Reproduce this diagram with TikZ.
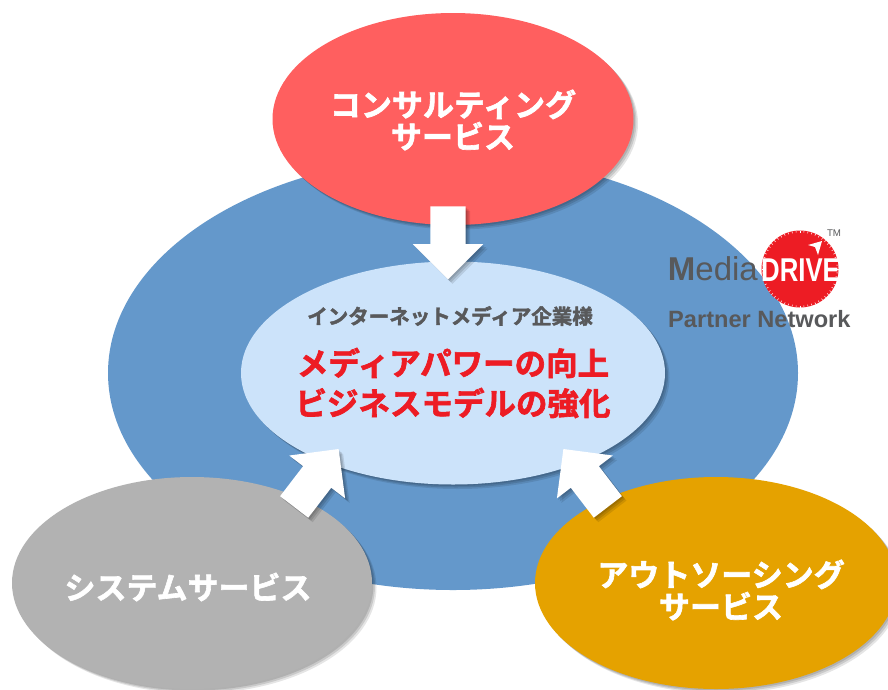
\documentclass[tikz,border=0pt]{standalone}
\usepackage{fontspec}
\setmainfont{Noto Sans CJK JP}[BoldFont={Noto Sans CJK JP Bold},BoldFeatures={FakeBold=2}]
\newfontfamily\logofont{Liberation Sans}
\newfontfamily\logonarrow{Liberation Sans Bold}[FakeStretch=.78]
\usetikzlibrary{calc,shapes.geometric,shapes.arrows,shadows}

\definecolor{ringcolor}{HTML}{6498CB}
\definecolor{consultcolor}{HTML}{FF5F5F}
\definecolor{clientcolor}{HTML}{CCE3FA}
\definecolor{systemcolor}{HTML}{B2B2B2}
\definecolor{outsourcecolor}{HTML}{E5A200}
\definecolor{mainred}{HTML}{ED1C24}
\definecolor{textgray}{HTML}{58595B}

\tikzset{
softshadow/.style={
  drop shadow={shadow xshift=1.5pt,shadow yshift=-1.5pt,opacity=.12,fill=black},
  drop shadow={shadow xshift=3pt,shadow yshift=-3pt,opacity=.12,fill=black},
  drop shadow={shadow xshift=4.5pt,shadow yshift=-4.5pt,opacity=.1,fill=black}},
service/.style={ellipse,inner sep=0pt,softshadow,minimum height=212pt},
servicelabel/.style={text=white,align=center,font=\fontsize{31}{32}\selectfont\bfseries},
pointer/.style={single arrow,fill=white,inner sep=0pt,softshadow,minimum height=73pt,
  single arrow head extend=17.5pt,single arrow tip angle=90,
  single arrow head indent=0pt},
}
\newcommand{\shaft}{\rule{0pt}{35pt}}

\begin{document}
\begin{tikzpicture}[x=1pt,y=-1pt]
\clip (0,0) rectangle (888,689);
\fill[white] (0,0) rectangle (888,689);

% the big ring and the client in the middle
\node[ellipse,fill=ringcolor,inner sep=0pt,minimum width=690pt,minimum height=434pt] (ring) at (453,373) {};
\node[ellipse,fill=clientcolor,inner sep=0pt,softshadow,minimum width=424pt,minimum height=223pt] (client) at (453,373) {};

% services
\node[service,fill=consultcolor,minimum width=361pt] (consult) at (453,119) {};
\node[service,fill=systemcolor,minimum width=360pt] (system) at (192,583) {};
\node[service,fill=outsourcecolor,minimum width=362pt] (outsource) at (716,583) {};
\node[servicelabel] (consultlabel) at (453,120) {コンサルティング\\サービス};
\node[servicelabel] (systemlabel) at (188,587) {システムサービス};
\node[servicelabel] (outsourcelabel) at (721,590) {アウトソーシング\\サービス};

% arrows into the client
\node[pointer,rotate=-90] (fromconsult) at (448,234) {\shaft};
\node[pointer,rotate=52.5] (fromsystem) at (311,485) {\shaft};
\node[pointer,rotate=127.5] (fromoutsource) at (591,485) {\shaft};

% client texts
\node[text=textgray,font=\fontsize{20.5}{22}\selectfont\bfseries] (clienttitle) at (450,316) {インターネットメディア企業様};
\node[text=mainred,align=center,font=\fontsize{31.5}{40}\selectfont\bfseries] (clientgoal) at (453,383) {メディアパワーの向上\\ビジネスモデルの強化};

% logo
\node[circle,fill=mainred,inner sep=0pt,minimum size=77pt] (logodisc) at (800,269) {};
\foreach \a in {0,6,...,354}
  \draw[white,line width=.5pt] ($(logodisc)+(\a:36.5)$) -- ($(logodisc)+(\a:38.5)$);
\fill[white] (808,245) -- (822,241) -- (818,255) -- (815,247) -- cycle;
\node[anchor=east,inner sep=0pt,text=textgray,font=\logofont\fontsize{33}{33}\selectfont] (logomedia) at (758,269) {\textbf{M}edia};
\node[anchor=west,inner sep=0pt,text=white,font=\logonarrow\fontsize{33}{33}\selectfont] (logodrive) at (761,270) {DRIVE};
\node[inner sep=0pt,text=textgray,font=\logofont\fontsize{9.7}{10}\selectfont] (logotm) at (834,233) {TM};
\node[anchor=west,inner sep=0pt,text=textgray,font=\logofont\bfseries\fontsize{23.6}{24}\selectfont] (logonetwork) at (668,319) {Partner Network};
\end{tikzpicture}
\end{document}
